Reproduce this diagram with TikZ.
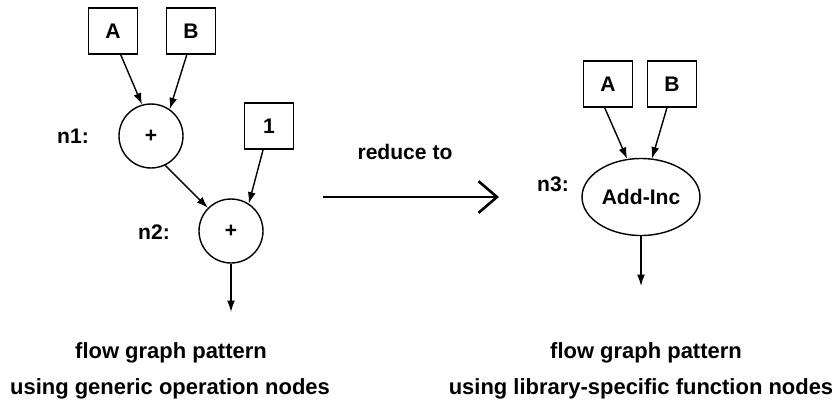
\documentclass[tikz,border=0pt]{standalone}
\usepackage{fontspec}
\setmainfont{Liberation Sans}
\usetikzlibrary{arrows.meta,shapes.geometric}

\begin{document}
\begin{tikzpicture}[x=0.02cm, y=-0.02cm]
%styles des noeuds
\tikzstyle{boite}=[rectangle, draw, line width=0.8pt, minimum width=0.98cm, minimum height=0.92cm, inner sep=0pt, font=\fontsize{12}{14}\selectfont\bfseries]
\tikzstyle{op}=[circle, draw, line width=0.8pt, minimum size=1.28cm, inner sep=0pt, font=\fontsize{12}{14}\selectfont\bfseries]
\tikzstyle{fonction}=[ellipse, draw, line width=0.8pt, minimum width=2.36cm, minimum height=1.54cm, inner sep=0pt, font=\fontsize{12}{14}\selectfont\bfseries]
\tikzstyle{etiq}=[rectangle, text=black, font=\fontsize{12}{14}\selectfont\bfseries]
\tikzstyle{legende}=[rectangle, text=black, font=\fontsize{12.5}{15}\selectfont\bfseries]
\tikzstyle{flux}=[-{Latex[length=6.5pt,width=4.5pt]}, line width=0.8pt]

\useasboundingbox (0,0) rectangle (836,400);

%graphe generique
\node[boite] (a1) at (113,31) {A};
\node[boite] (b1) at (191,31) {B};
\node[boite] (un) at (269,126) {1};
\node[op] (n1) at (151,136) {+};
\node[op] (n2) at (231,231) {+};
\node[etiq] (l1) at (73,136) {n1:};
\node[etiq] (l2) at (154,232) {n2:};
\coordinate (s2) at (231,312);

\draw[flux] (a1.-72) -- (n1.106);
\draw[flux] (b1.260) -- (n1.55);
\draw[flux] (n1.-64) -- (n2.135);
\draw[flux] (un.256) -- (n2.57);
\draw[flux] (n2) -- (s2);

%reduction
\coordinate (r0) at (323,197);
\coordinate (r1) at (499,197);
\node[etiq] (red) at (405,152) {reduce to};
\draw[-{Straight Barb[length=10.5pt,width=18pt]}, line width=1.5pt] (r0) -- (r1);

%graphe bibliotheque
\node[boite] (a2) at (608,84) {A};
\node[boite] (b2) at (672,84) {B};
\node[fonction] (n3) at (641,197) {Add-Inc};
\node[etiq] (l3) at (553,184) {n3:};
\coordinate (s3) at (641,286);

\draw[flux] (a2.262) -- (n3.110);
\draw[flux] (b2.258) -- (n3.74);
\draw[flux] (n3) -- (s3);

%legendes
\node[legende] (g1) at (171,353) {flow graph pattern};
\node[legende] (g2) at (170,389) {using generic operation nodes};
\node[legende] (d1) at (646,353) {flow graph pattern};
\node[legende] (d2) at (641,389) {using library-specific function nodes};

\end{tikzpicture}
\end{document}
